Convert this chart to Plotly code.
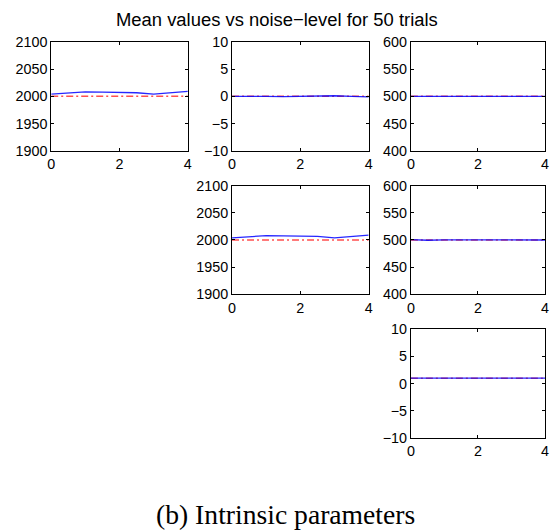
import plotly.graph_objects as go

W, H = 552, 530

noise = [0, 0.5, 1, 1.5, 2, 2.5, 3, 3.5, 4]

# panel data (estimated mean values) and ground truth
p_focal1 = [2004, 2006, 2008, 2007.5, 2007, 2006.5, 2004, 2006.5, 2009]
p_skew = [0.0, 0.05, 0.0, -0.05, 0.0, 0.05, 0.1, 0.0, -0.1]
p_u0 = [500, 500, 500.2, 500, 499.8, 500, 501, 499.8, 500]
p_focal2 = [2004, 2006, 2008, 2007.5, 2007, 2006.5, 2004, 2006.5, 2009]
p_v0 = [500.5, 499.5, 500.2, 500, 499.8, 500, 500.5, 499.8, 500]
p_aspect = [1, 1, 1, 1, 1, 1, 1, 1, 1]

truth = [2000, 0, 500, 2000, 500, 1]
y_ranges = [[1900, 2100], [-10, 10], [400, 600], [1900, 2100], [400, 600], [-10, 10]]
y_dticks = [50, 5, 50, 50, 50, 5]
series = [p_focal1, p_skew, p_u0, p_focal2, p_v0, p_aspect]

x_ticks = [0, 2, 4]

# panel positions in pixels (left, top) as seen in the reference picture
cells = [(51, 41), (231, 41), (409, 41), (231, 185), (409, 185), (409, 329)]
pw, ph = 136, 109

# empirical correction from picture pixels to figure pixels
SX, BX = 0.981, 4.0
SY, BY = 0.972, 7.0
X_MAX = 549  # keep the rightmost tick label inside the page


def clamp(v):
    return min(1.0, max(0.0, v))


def fxp(x):
    return min((x - BX) / SX, X_MAX)


def px_x(x):
    return clamp(fxp(x) / W)


def px_y(y):
    return clamp(1 - (y - BY) / SY / H)


FS = 1 / 0.977

fig = go.Figure()
layout = dict(
    width=W, height=H,
    margin=dict(l=0, r=0, t=0, b=0),
    paper_bgcolor="white", plot_bgcolor="white",
    showlegend=False,
    font=dict(family="Liberation Sans, Arial, sans-serif", size=14 * FS, color="black"),
)

for i, ((lx, ty), vals, tr, yr, dt) in enumerate(zip(cells, series, truth, y_ranges, y_dticks)):
    n = i + 1
    xa = "x" if n == 1 else f"x{n}"
    ya = "y" if n == 1 else f"y{n}"
    fig.add_trace(go.Scatter(
        x=noise, y=[tr] * len(noise), mode="lines",
        line=dict(color="rgba(255,60,60,0.9)", width=1.6, dash="7px,3px,2px,3px"),
        xaxis=xa, yaxis=ya, hoverinfo="skip"))
    fig.add_trace(go.Scatter(
        x=noise, y=vals, mode="lines",
        line=dict(color="rgba(0,0,255,0.85)", width=1.3),
        xaxis=xa, yaxis=ya, hoverinfo="skip"))
    axcommon = dict(showline=True, linecolor="black", linewidth=1, mirror="allticks",
                    ticks="inside", ticklen=3, tickcolor="black", showgrid=False,
                    zeroline=False, tickfont=dict(size=14 * FS), ticklabeloverflow="allow")
    layout["xaxis" if n == 1 else f"xaxis{n}"] = dict(
        domain=[px_x(lx), px_x(lx + pw)], range=[0, 4], tickvals=x_ticks,
        anchor=ya, **axcommon)
    layout["yaxis" if n == 1 else f"yaxis{n}"] = dict(
        domain=[px_y(ty + ph), px_y(ty)], range=yr, dtick=dt, tick0=yr[0],
        anchor=xa, **axcommon)

layout["annotations"] = [
    dict(text="Mean values vs noise\u2212level for 50 trials", x=px_x(276), y=px_y(19),
         xref="paper", yref="paper", showarrow=False, xanchor="center", yanchor="middle",
         font=dict(size=18 * FS, family="Liberation Sans, Arial, sans-serif")),
    dict(text="(b) Intrinsic parameters", x=px_x(284), y=px_y(515),
         xref="paper", yref="paper", showarrow=False, xanchor="center", yanchor="middle",
         font=dict(size=27 * FS, family="Liberation Serif, Times New Roman, serif")),
]

fig.update_layout(**layout)
fig.write_html(
    "out.html",
    config={"displayModeBar": False},
    post_script="document.body.style.margin='0px';document.body.style.overflow='hidden';",
)
